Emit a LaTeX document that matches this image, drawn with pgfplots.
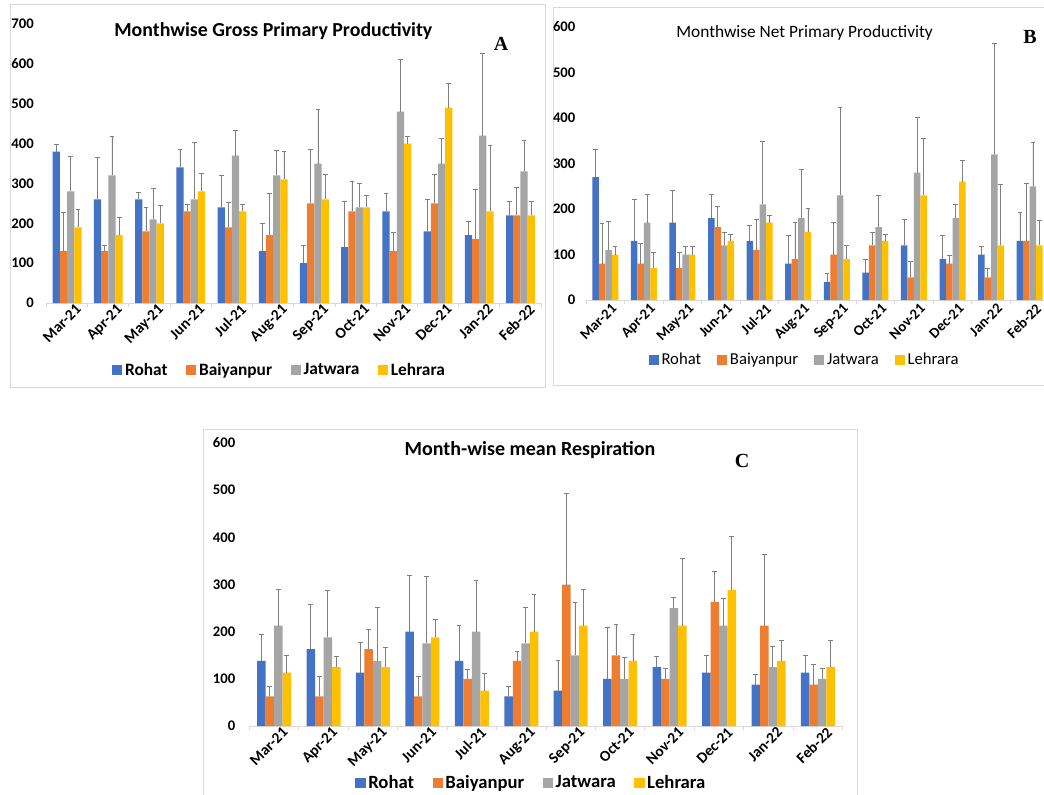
\documentclass[border=0pt]{standalone}
\usepackage{fontspec}
\setmainfont{Carlito}
\newfontfamily\timesfont{Liberation Serif}
\usepackage{pgfplots}
\usepackage{pgfplotstable}
\pgfplotsset{compat=1.18}
\definecolor{cR}{HTML}{4472C4}
\definecolor{cB}{HTML}{ED7D31}
\definecolor{cJ}{HTML}{A5A5A5}
\definecolor{cL}{HTML}{FFC000}
\definecolor{errc}{HTML}{7F7F7F}
\definecolor{framec}{HTML}{D9D9D9}

\pgfplotstableread{
x R Re B Be J Je L Le
0 380 17 130 97 280 87 190 45
1 260 105 130 15 320 98 170 45
2 260 18 180 60 210 78 200 45
3 340 46 230 17 260 142 280 45
4 240 80 190 62 370 63 230 17
5 130 70 170 105 320 63 310 70
6 100 45 250 135 350 135 260 62
7 140 115 230 75 240 60 240 30
8 230 46 130 47 480 130 400 18
9 180 80 250 73 350 64 490 62
10 170 35 160 125 420 207 230 165
11 220 35 220 70 330 78 220 35
}\dataA

\pgfplotstableread{
x R Re B Be J Je L Le
0 270 60 80 88 110 62 100 18
1 130 92 80 45 170 62 70 35
2 170 70 70 35 100 17 100 17
3 180 52 160 45 120 28 130 15
4 130 35 110 68 210 138 170 15
5 80 62 90 80 180 108 150 52
6 40 18 100 70 230 193 90 30
7 60 30 120 28 160 70 130 15
8 120 58 50 35 280 122 230 125
9 90 52 80 18 180 30 260 46
10 100 17 50 19 320 243 120 133
11 130 63 130 126 250 97 120 54
}\dataB

\pgfplotstableread{
x R Re B Be J Je L Le
0 138 57 63 20 213 77 113 37
1 163 94 63 42 188 99 125 22
2 113 64 163 42 138 114 125 42
3 200 120 63 42 175 142 188 37
4 138 75 100 20 200 108 75 37
5 63 20 138 20 175 77 200 78
6 75 65 300 193 150 112 213 77
7 100 109 150 65 100 45 138 57
8 125 22 100 22 250 22 213 142
9 113 37 263 64 213 57 288 113
10 88 22 213 151 125 43 138 43
11 113 37 88 43 100 22 125 57
}\dataC

\pgfplotsset{
  sq/.style={legend image code/.code={\fill[##1] (0pt,-3.8pt) rectangle (7.6pt,3.8pt);}},
  panel/.style={
    scale only axis, ybar=0pt, ymin=0, xmin=-0.5, xmax=11.5,
    xtick={0,...,11},
    xticklabels={Mar-21,Apr-21,May-21,Jun-21,Jul-21,Aug-21,Sep-21,Oct-21,Nov-21,Dec-21,Jan-22,Feb-22},
    minor xtick={-0.5,0.5,...,11.5},
    major tick length=0pt, minor tick length=3pt,
    tick align=outside,
    axis x line*=bottom, axis y line*=left,
    y axis line style={draw=none},
    x axis line style={framec, line width=0.7pt},
    minor x tick style={framec, line width=0.7pt},
    ytick style={draw=none},
    xticklabel style={rotate=45, anchor=north east, font=\bfseries\fontsize{11.5}{11.5}\selectfont, inner sep=1pt, xshift=5pt, yshift=-3pt},
    yticklabel style={font=\bfseries\fontsize{11}{11}\selectfont},
    /pgf/number format/assume math mode=true,
    legend columns=4,
    legend style={draw=none, fill=none, anchor=center, font=\bfseries\fontsize{13}{13}\selectfont,
      /tikz/every even column/.append style={column sep=12pt}},
    error bars/y dir=plus, error bars/y explicit,
    error bars/error bar style={color=errc, line width=0.6pt},
    error bars/error mark options={rotate=90, mark size=1.8pt, line width=0.6pt, errc},
  }
}

\begin{document}
\begin{tikzpicture}
\path[use as bounding box] (0,0) rectangle (783pt,595.5pt);
\clip (0,0) rectangle (783pt,595.5pt);
% frames
\draw[framec, line width=0.75pt] (7.5pt,305.25pt) rectangle (408.75pt,591.75pt);
\draw[framec, line width=0.75pt] (414.75pt,306.75pt) rectangle (790pt,589.5pt);
\draw[framec, line width=0.75pt] (152.25pt,-5pt) rectangle (642.75pt,273.75pt);

% Panel A
\begin{axis}[panel, at={(34.875pt,368.25pt)}, anchor=south west,
  width=370.9pt, height=209.25pt, ymax=700, ytick={0,100,...,700},
  bar width=5.4pt,
  yticklabel style={xshift=-6pt},
  legend style={at={(0.472,-0.24)}}]
\addplot[fill=cR, draw=none, sq] table[x=x, y=R, y error=Re] {\dataA};
\addplot[fill=cB, draw=none, sq] table[x=x, y=B, y error=Be] {\dataA};
\addplot[fill=cJ, draw=none, sq] table[x=x, y=J, y error=Je] {\dataA};
\addplot[fill=cL, draw=none, sq] table[x=x, y=L, y error=Le] {\dataA};
\legend{Rohat, Baiyanpur, Jatwara, Lehrara}
\end{axis}

% Panel B
\begin{axis}[panel, at={(439.5pt,370.5pt)}, anchor=south west,
  width=347.25pt, height=204.75pt, ymax=600, ytick={0,100,...,600},
  bar width=4.875pt,
  yticklabel style={xshift=-4.5pt},
  xticklabel style={xshift=-2.5pt, font=\bfseries\fontsize{11}{11}\selectfont},
  legend style={at={(0.473,-0.22)}, font=\fontsize{12.5}{12.5}\selectfont,
    /tikz/every even column/.append style={column sep=10pt}}]
\addplot[fill=cR, draw=none, sq] table[x=x, y=R, y error=Re] {\dataB};
\addplot[fill=cB, draw=none, sq] table[x=x, y=B, y error=Be] {\dataB};
\addplot[fill=cJ, draw=none, sq] table[x=x, y=J, y error=Je] {\dataB};
\addplot[fill=cL, draw=none, sq] table[x=x, y=L, y error=Le] {\dataB};
\legend{Rohat, Baiyanpur, Jatwara, Lehrara}
\end{axis}

% Panel C
\begin{axis}[panel, at={(187pt,51pt)}, anchor=south west,
  width=445pt, height=212.25pt, ymax=600, ytick={0,100,...,600},
  bar width=6.375pt,
  yticklabel style={xshift=-7pt},
  legend style={at={(0.476,-0.20)}, font=\bfseries\fontsize{14}{14}\selectfont}]
\addplot[fill=cR, draw=none, sq] table[x=x, y=R, y error=Re] {\dataC};
\addplot[fill=cB, draw=none, sq] table[x=x, y=B, y error=Be] {\dataC};
\addplot[fill=cJ, draw=none, sq] table[x=x, y=J, y error=Je] {\dataC};
\addplot[fill=cL, draw=none, sq] table[x=x, y=L, y error=Le] {\dataC};
\legend{Rohat, Baiyanpur, Jatwara, Lehrara}
\end{axis}

% titles
\node[font=\bfseries\fontsize{14.9}{14.9}\selectfont] at (205pt,572.25pt) {Monthwise Gross Primary Productivity};
\node[font=\timesfont\bfseries\fontsize{15}{15}\selectfont] at (375.75pt,562.9pt) {A};
\node[font=\fontsize{13}{13}\selectfont] at (603.4pt,570.75pt) {Monthwise Net Primary Productivity};
\node[font=\timesfont\bfseries\fontsize{15}{15}\selectfont] at (772.5pt,567.75pt) {B};
\node[font=\bfseries\fontsize{15}{15}\selectfont] at (397.5pt,258pt) {Month-wise mean Respiration};
\node[font=\timesfont\bfseries\fontsize{15}{15}\selectfont] at (556.5pt,249.75pt) {C};
\end{tikzpicture}
\end{document}
